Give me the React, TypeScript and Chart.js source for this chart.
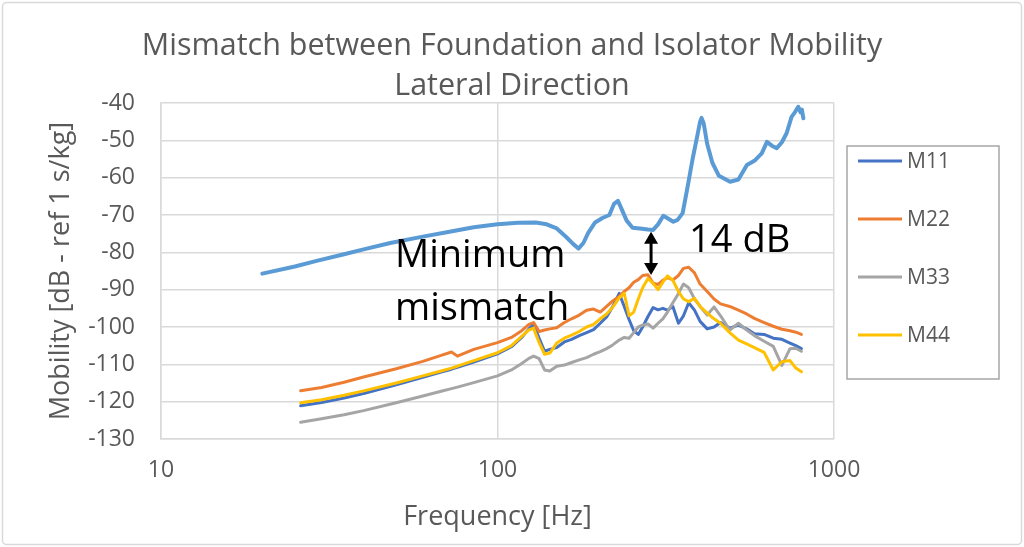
import { useEffect, useRef } from 'react';
import { Chart, registerables } from 'chart.js';

Chart.register(...registerables);

const chartTitle = ['Mismatch between Foundation and Isolator Mobility', 'Lateral Direction'];
const xAxisTitle = 'Frequency [Hz]';
const yAxisTitle = 'Mobility [dB - ref 1 s/kg]';
const xTickValues = [10, 100, 1000];

// foundation mobility (not in legend)
const foundationFreq = [
	20, 25, 29, 35, 40, 48, 60, 72, 85, 100, 115, 130, 140, 150, 160, 168, 174, 180, 186, 195, 205, 215, 222, 228,
	234, 242, 252, 265, 280, 290, 300, 311, 322, 333, 343, 355, 368, 380, 392, 400, 404, 410, 420, 435, 455, 491, 520,
	551, 580, 610, 632, 655, 676, 700, 723, 748, 765, 783, 795, 803, 811,
];
const foundationMobility = [
	-85.7, -83.8, -82.3, -80.5, -79.2, -77.5, -75.8, -74.5, -73.3, -72.5, -72.1, -72.0, -72.5, -73.6, -75.9, -77.8,
	-79.0, -77.5, -74.8, -72.0, -70.8, -70.0, -67.0, -66.2, -68.5, -71.5, -73.4, -73.6, -73.9, -74.0, -72.5, -70.2,
	-71.0, -71.8, -71.3, -69.5, -62.0, -55.0, -49.0, -45.0, -44.0, -45.5, -51.0, -56.0, -59.5, -61.1, -60.5, -56.6,
	-55.5, -53.5, -50.4, -51.5, -52.1, -50.5, -48.1, -43.7, -42.5, -41.0, -42.5, -41.8, -44.1,
];

// isolator mobilities
const isolatorFreq = [
	26, 30, 35, 40, 50, 60, 68, 73, 76, 85, 100, 110, 118, 124, 128, 133, 138, 143, 150, 158, 166, 175, 184, 193, 202,
	211, 220, 230, 238, 246, 254, 262, 270, 280, 290, 300, 310, 320, 332, 345, 357, 370, 385, 400, 420, 440, 460, 490,
	520, 550, 580, 620, 660, 700, 740, 770, 800,
];
const m11 = [
	-121.1, -120.2, -119.0, -117.8, -115.5, -113.5, -112.1, -111.3, -110.8, -109.4, -107.2, -105.3, -102.8, -100.5,
	-99.2, -103.0, -106.5, -106.0, -105.5, -104.0, -103.3, -102.3, -101.5, -100.7, -99.0, -97.3, -94.5, -91.0, -94.5,
	-98.0, -101.0, -102.0, -100.0, -97.2, -94.8, -95.4, -95.0, -95.5, -94.5, -99.0, -97.0, -93.5, -95.5, -98.5,
	-100.5, -100.0, -98.8, -100.3, -99.5, -100.5, -101.8, -102.0, -103.0, -103.3, -104.3, -105.0, -105.8,
];
const m22 = [
	-117.1, -116.2, -114.8, -113.4, -111.2, -109.2, -107.6, -106.7, -107.8, -106.0, -104.2, -102.8, -101.0, -99.3,
	-98.8, -101.2, -100.8, -100.5, -100.2, -98.8, -97.8, -96.8, -95.5, -95.2, -96.0, -94.5, -93.0, -91.8, -90.5,
	-89.5, -88.0, -87.3, -86.2, -86.0, -88.3, -88.6, -87.5, -86.8, -87.4, -86.2, -84.3, -84.0, -85.5, -88.5, -90.5,
	-92.5, -93.8, -94.5, -95.5, -96.5, -97.7, -98.8, -99.8, -100.6, -101.0, -101.4, -102.0,
];
const m33 = [
	-125.5, -124.6, -123.5, -122.4, -120.3, -118.5, -117.2, -116.5, -116.1, -114.9, -113.1, -111.5, -109.8, -108.4,
	-107.8, -108.5, -111.5, -111.8, -110.5, -110.2, -109.5, -108.8, -108.2, -107.3, -106.6, -105.8, -104.8, -103.5,
	-102.8, -103.0, -101.5, -100.0, -99.5, -99.2, -100.3, -99.0, -97.8, -96.0, -93.5, -91.0, -88.5, -89.5, -92.5,
	-94.5, -96.8, -94.6, -97.0, -100.8, -99.0, -100.8, -102.3, -103.8, -105.2, -110.3, -105.8, -105.7, -106.5,
];
const m44 = [
	-120.3, -119.5, -118.3, -117.1, -115.0, -113.1, -111.8, -111.0, -110.5, -109.0, -106.9, -105.0, -102.5, -100.8,
	-100.3, -104.2, -107.3, -107.0, -104.3, -103.0, -102.2, -101.2, -100.0, -99.3, -97.8, -96.5, -94.7, -92.2, -91.0,
	-97.0, -96.0, -92.5, -89.5, -87.0, -88.3, -90.0, -88.0, -86.3, -87.5, -90.5, -92.5, -93.2, -92.3, -94.5, -96.3,
	-97.8, -99.0, -101.5, -103.5, -104.5, -105.5, -106.8, -111.5, -109.3, -109.0, -111.0, -112.0,
];
const isolatorNames = ['M11', 'M22', 'M33', 'M44'];
const isolatorSeries = [m11, m22, m33, m44];
const isolatorColors = ['#4472C4', '#ED7D31', '#A5A5A5', '#FFC000'];

// annotation: arrow between curves and the two notes
const arrowFreq = 286;
const arrowTop = -74.5;
const arrowBottom = -86.1;
const notes = [
	{ text: 'Minimum', freq: 49.6, value: -83.9 },
	{ text: 'mismatch', freq: 49.6, value: -98.1 },
	{ text: '14 dB', freq: 371, value: -79.9 },
];

const FONT = "'Open Sans', sans-serif";
const GREY_TEXT = '#595959';

const decorPlugin = {
	id: 'decor',
	beforeDraw(chart: Chart) {
		const { ctx, width, height } = chart;
		ctx.save();
		ctx.fillStyle = '#ffffff';
		ctx.fillRect(0, 0, width, height);
		ctx.strokeStyle = '#d9d9d9';
		ctx.lineWidth = 1.5;
		ctx.beginPath();
		ctx.roundRect(2.5, 2.5, width - 5, height - 5, 4);
		ctx.stroke();
		ctx.restore();
	},
	afterDatasetsDraw(chart: Chart) {
		const { ctx, scales } = chart;
		const x = scales.x.getPixelForValue(arrowFreq);
		const y1 = scales.y.getPixelForValue(arrowTop);
		const y2 = scales.y.getPixelForValue(arrowBottom);
		const head = 12;
		const half = 7;
		ctx.save();
		ctx.strokeStyle = '#000';
		ctx.fillStyle = '#000';
		ctx.lineWidth = 3;
		ctx.beginPath();
		ctx.moveTo(x, y1 + head - 1);
		ctx.lineTo(x, y2 - head + 1);
		ctx.stroke();
		ctx.beginPath();
		ctx.moveTo(x, y1);
		ctx.lineTo(x - half, y1 + head);
		ctx.lineTo(x + half, y1 + head);
		ctx.closePath();
		ctx.fill();
		ctx.beginPath();
		ctx.moveTo(x, y2);
		ctx.lineTo(x - half, y2 - head);
		ctx.lineTo(x + half, y2 - head);
		ctx.closePath();
		ctx.fill();

		ctx.font = `38px ${FONT}`;
		ctx.textAlign = 'left';
		ctx.textBaseline = 'alphabetic';
		notes.forEach((n) => {
			ctx.fillText(n.text, scales.x.getPixelForValue(n.freq), scales.y.getPixelForValue(n.value));
		});
		ctx.restore();
	},
	afterDraw(chart: Chart) {
		const { ctx, width } = chart;
		ctx.save();
		// title
		ctx.fillStyle = GREY_TEXT;
		ctx.font = `30.5px ${FONT}`;
		ctx.textAlign = 'center';
		ctx.textBaseline = 'middle';
		chartTitle.forEach((line, i) => ctx.fillText(line, width / 2, 46 + i * 40));

		// legend box
		ctx.strokeStyle = '#a6a6a6';
		ctx.lineWidth = 1.5;
		ctx.strokeRect(847, 146, 152, 233);
		ctx.font = `21px ${FONT}`;
		ctx.textAlign = 'left';
		chart.data.datasets.forEach((ds, i) => {
			if (i === 0) return;
			const y = 161 + (i - 1) * 58;
			ctx.strokeStyle = ds.borderColor as string;
			ctx.lineWidth = 3;
			ctx.beginPath();
			ctx.moveTo(858, y);
			ctx.lineTo(902, y);
			ctx.stroke();
			ctx.fillStyle = GREY_TEXT;
			ctx.fillText(ds.label as string, 907, y + 1);
		});
		ctx.restore();
	},
};

function App() {
	const chartRef = useRef<HTMLCanvasElement | null>(null);

	useEffect(() => {
		if (!chartRef.current) return;

		const datasets = [
			{
				label: 'Foundation',
				data: foundationFreq.map((f, i) => ({ x: f, y: foundationMobility[i] })),
				borderColor: '#5B9BD5',
				borderWidth: 4,
				order: 5,
			},
			...isolatorNames.map((name, k) => ({
				label: name,
				data: isolatorFreq.map((f, i) => ({ x: f, y: isolatorSeries[k][i] })),
				borderColor: isolatorColors[k],
				borderWidth: 3,
				order: 4 - k,
			})),
		];

		const chart = new Chart(chartRef.current, {
			type: 'line',
			data: { datasets },
			plugins: [decorPlugin],
			options: {
				animation: false,
				responsive: true,
				maintainAspectRatio: false,
				layout: { padding: { top: 103, right: 190, bottom: 0, left: 0 } },
				elements: {
					point: { radius: 0 },
					line: { tension: 0, borderJoinStyle: 'round', borderCapStyle: 'round' },
				},
				plugins: {
					legend: { display: false },
					title: { display: false },
					tooltip: { enabled: false },
				},
				scales: {
					x: {
						type: 'logarithmic',
						min: 10,
						max: 1000,
						afterBuildTicks: (axis) => {
							axis.ticks = xTickValues.map((value) => ({ value }));
						},
						afterFit: (axis) => {
							axis.height = 108;
						},
						ticks: {
							color: GREY_TEXT,
							font: { family: FONT, size: 23 },
							padding: 18,
							maxRotation: 0,
							callback: (v) => String(v),
						},
						grid: { color: '#d9d9d9', lineWidth: 1.5, drawTicks: false },
						border: { color: '#d9d9d9', width: 1.5 },
						title: {
							display: true,
							text: xAxisTitle,
							color: GREY_TEXT,
							font: { family: FONT, size: 27 },
							padding: { top: 0, bottom: 13 },
						},
					},
					y: {
						min: -130,
						max: -40,
						afterFit: (axis) => {
							axis.width = 161;
						},
						ticks: {
							stepSize: 10,
							color: GREY_TEXT,
							font: { family: FONT, size: 23 },
							padding: 26,
						},
						grid: { color: '#d9d9d9', lineWidth: 1.5, drawTicks: false },
						border: { color: '#d9d9d9', width: 1.5 },
						title: {
							display: true,
							text: yAxisTitle,
							color: GREY_TEXT,
							font: { family: FONT, size: 27 },
							padding: { top: 45, bottom: 0 },
						},
					},
				},
			},
		});

		return () => {
			chart.destroy();
		};
	}, []);

	return (
		<div style={{ position: 'absolute', left: 0, top: 0, width: 1024, height: 547 }}>
			<canvas ref={chartRef}></canvas>
		</div>
	);
}

export default App;
